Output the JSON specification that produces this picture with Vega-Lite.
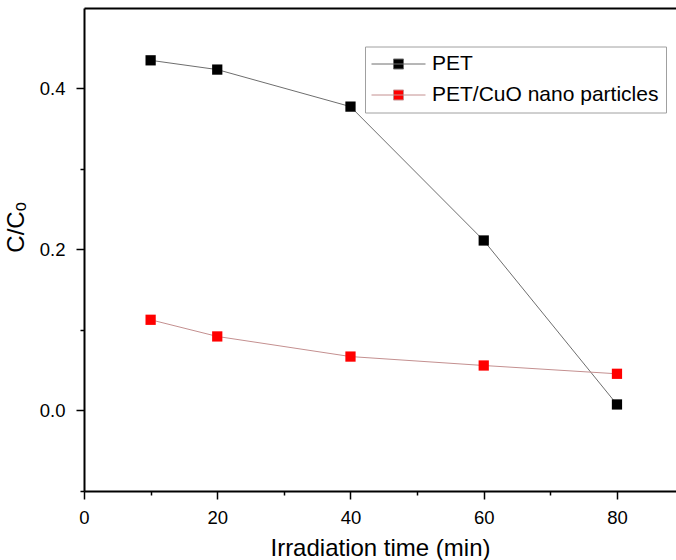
{
  "$schema": "https://vega.github.io/schema/vega-lite/v6.json",
  "autosize": {"type": "none"},
  "padding": {"left": 84, "top": 8, "right": 0, "bottom": 69},
  "width": 592,
  "height": 483,
  "background": "white",
  "config": {
    "view": {"stroke": null},
    "font": "Liberation Sans",
    "axis": {
      "domainColor": "black",
      "domainWidth": 2,
      "tickColor": "black",
      "tickWidth": 1.5,
      "labelColor": "black",
      "labelFont": "Liberation Sans",
      "labelFontSize": 18.5,
      "titleFont": "Liberation Sans",
      "titleFontSize": 24,
      "titleFontWeight": "normal",
      "titleColor": "black",
      "grid": false
    },
    "legend": {
      "orient": "none",
      "legendX": 281,
      "legendY": 38.5,
      "padding": 7,
      "strokeColor": "#a0a0a0",
      "strokeWidth": 1,
      "fillColor": "white",
      "labelFont": "Liberation Sans",
      "labelFontSize": 21,
      "labelColor": "black",
      "labelLimit": 500,
      "rowPadding": 9,
      "symbolSize": 100,
      "symbolStrokeWidth": 1,
      "symbolOffset": 16,
      "labelOffset": 23
    }
  },
  "data": {
    "values": [
      {"time": 10, "value": 0.435, "sample": "PET"},
      {"time": 20, "value": 0.4235, "sample": "PET"},
      {"time": 40, "value": 0.3775, "sample": "PET"},
      {"time": 60, "value": 0.2112, "sample": "PET"},
      {"time": 80, "value": 0.0075, "sample": "PET"},
      {"time": 10, "value": 0.1127, "sample": "PET/CuO nano particles"},
      {"time": 20, "value": 0.092, "sample": "PET/CuO nano particles"},
      {"time": 40, "value": 0.067, "sample": "PET/CuO nano particles"},
      {"time": 60, "value": 0.0559, "sample": "PET/CuO nano particles"},
      {"time": 80, "value": 0.0456, "sample": "PET/CuO nano particles"}
    ]
  },
  "layer": [
    {
      "mark": {"type": "line", "strokeWidth": 1},
      "encoding": {
        "x": {
          "field": "time", "type": "quantitative",
          "scale": {"domain": [0, 88.86], "nice": false, "zero": false},
          "axis": {
            "orient": "bottom",
            "title": "Irradiation time (min)",
            "values": [0, 10, 20, 30, 40, 50, 60, 70, 80],
            "labelExpr": "datum.value % 20 === 0 ? datum.label : ''",
            "tickSize": {"condition": {"test": "datum.value % 20 !== 0", "value": 4}, "value": 8},
            "labelPadding": 9.5,
            "labelFlush": false,
            "titleY": 64,
            "titleBaseline": "alphabetic"
          }
        },
        "y": {
          "field": "value", "type": "quantitative",
          "scale": {"domain": [-0.1, 0.5], "nice": false, "zero": false},
          "axis": {
            "title": "C/Cₒ",
            "values": [-0.1, 0, 0.1, 0.2, 0.3, 0.4],
            "format": ".1f",
            "labelExpr": "abs(round(datum.value*10)) % 2 === 0 ? datum.label : ''",
            "tickSize": {"condition": {"test": "abs(round(datum.value*10)) % 2 === 1", "value": 4}, "value": 8},
            "labelPadding": 11,
            "labelFlush": false,
            "titleX": -61,
            "titleY": 219,
            "titleAngle": -90,
            "titleAlign": "center",
            "titleBaseline": "alphabetic"
          }
        },
        "stroke": {
          "field": "sample", "type": "nominal",
          "scale": {"domain": ["PET", "PET/CuO nano particles"], "range": ["#6e6e6e", "#c49090"]},
          "legend": {
            "title": null,
            "symbolType": "M-5.4,0H5.4M-1,-1H1V1H-1Z"
          }
        }
      }
    },
    {
      "mark": {"type": "point", "shape": "square", "filled": true, "size": 105, "opacity": 1},
      "encoding": {
        "x": {
          "field": "time", "type": "quantitative",
          "axis": {"orient": "top", "title": null, "labels": false, "ticks": false, "domain": true}
        },
        "y": {"field": "value", "type": "quantitative"},
        "fill": {
          "field": "sample", "type": "nominal",
          "scale": {"domain": ["PET", "PET/CuO nano particles"], "range": ["#000000", "#ff0000"]},
          "legend": {
            "title": null,
            "symbolType": "M-5.4,0H5.4M-1,-1H1V1H-1Z"
          }
        }
      }
    }
  ],
  "resolve": {"axis": {"x": "independent"}}
}
